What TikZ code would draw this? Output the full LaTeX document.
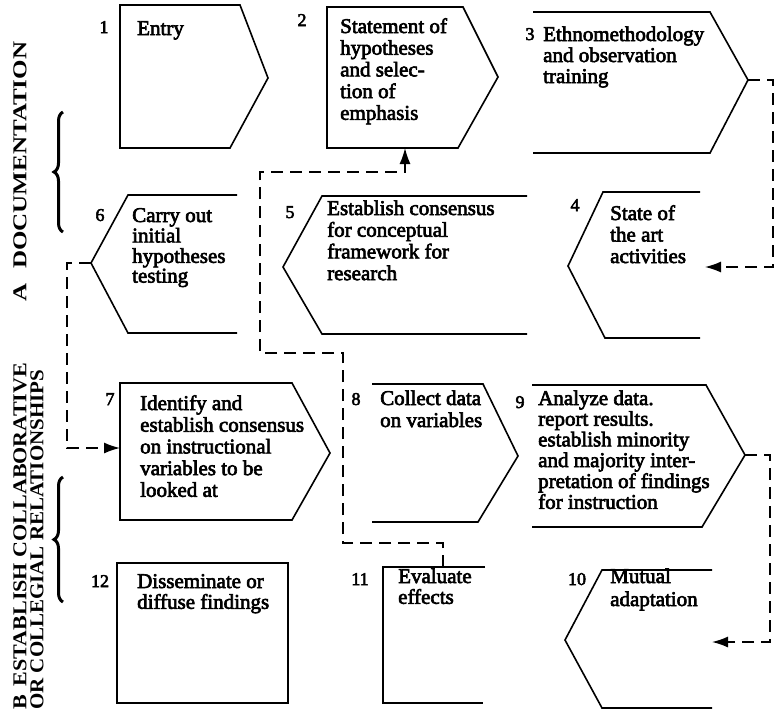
\documentclass[tikz,border=0pt]{standalone}
\usepackage{fontspec}
\setmainfont{Liberation Serif}
\newfontfamily\boxfont{Liberation Serif}[FakeBold=3]
\usetikzlibrary{arrows.meta,decorations.pathreplacing}
\newcommand\mylines[2][21.7]{{\boxfont\fontsize{21}{#1}\selectfont\begin{tabular}[t]{@{}l@{}}#2\end{tabular}}}
\newcommand\vlabel[3]{\resizebox{#1}{#2}{\bfseries #3}}
\begin{document}
\begin{tikzpicture}[x=1pt,y=-1pt,
  box/.style={line width=1.6pt, line join=miter},
  conn/.style={line width=1.4pt, dash pattern=on 12pt off 7pt},
  arr/.style={-{Latex[length=16pt,width=11pt]}},
  num/.style={anchor=base, inner sep=0pt, font=\boxfont\fontsize{18}{20}\selectfont},
  txt/.style={anchor=base west, inner sep=0pt},
  lab/.style={rotate=90, anchor=west, inner sep=0pt},
  bracestyle/.style={line width=3pt, decorate, decoration={brace, amplitude=9pt}}]
\useasboundingbox (0,0) rectangle (775,713);

% side labels and braces
\node[lab] (labA) at (20,302) {\vlabel{260pt}{13pt}{A\hspace{0.6em}DOCUMENTATION}};
\node[lab] (labB1) at (20,710) {\vlabel{347pt}{13pt}{B\hspace{0.4em}ESTABLISH COLLABORATIVE}};
\node[lab] (labB2) at (37,710) {\vlabel{340pt}{13pt}{OR COLLEGIAL RELATIONSHIPS}};
\draw[bracestyle] (63,232) -- (63,112);
\draw[bracestyle] (63,602) -- (63,477);

% boxes
\draw[box] (120,5) -- (240,5) -- (268,78) coordinate (t1) -- (230,148) -- (120,148) -- cycle;
\draw[box] (327,7) -- (463,7) -- (498,77) coordinate (t2) -- (458,148) -- (327,148) -- cycle;
\coordinate (b2) at (405,148);
\draw[box] (533,12) -- (710,12) -- (748,80) coordinate (t3) -- (710,153) -- (533,153);
\draw[box] (237,195) -- (128,195) -- (91,263) coordinate (t6) -- (128,333) -- (237,333);
\draw[box] (527,196) -- (322,196) -- (283,267) coordinate (t5) -- (322,334) -- (527,334);
\draw[box] (700,192) -- (603,192) -- (568,266) coordinate (t4) -- (605,338) -- (700,338);
\coordinate (in4) at (705,267);
\draw[box] (120,383) -- (292,383) -- (330,453) coordinate (t7) -- (292,520) -- (120,520) -- cycle;
\coordinate (in7) at (120,448);
\draw[box] (372,384) -- (483,384) -- (518,456) coordinate (t8) -- (478,522) -- (372,522);
\draw[box] (532,385) -- (706,385) -- (745,455) coordinate (t9) -- (702,527) -- (532,527);
\draw[box] (117,563) rectangle (288,703);
\draw[box] (485,567) -- (383,567) -- (383,703) -- (483,703);
\coordinate (top11) at (443,567);
\draw[box] (712,570) -- (602,570) -- (565,640) coordinate (t10) -- (602,708) -- (712,708);
\coordinate (in10) at (712,642);

% numbers
\node[num] (n1) at (104,33) {1};
\node[num] (n2) at (302,26) {2};
\node[num] (n3) at (530,40) {3};
\node[num] (n6) at (100,221) {6};
\node[num] (n5) at (290,218) {5};
\node[num] (n4) at (575,211) {4};
\node[num] (n7) at (110,405) {7};
\node[num] (n8) at (356,405) {8};
\node[num] (n9) at (520,408) {9};
\node[num] (n12) at (100,587) {12};
\node[num] (n11) at (360,585) {11};
\node[num] (n10) at (577,585) {10};

% texts
\node[txt] (x1) at (137,35) {\mylines{Entry}};
\node[txt] (x2) at (340,33) {\mylines{Statement of\\hypotheses\\and selec-\\tion of\\emphasis}};
\node[txt] (x3) at (543,41) {\mylines[21]{Ethnomethodology\\and observation\\training}};
\node[txt] (x6) at (132,222) {\mylines[19.5]{Carry out\\initial\\hypotheses\\testing}};
\node[txt] (x5) at (327,215) {\mylines{Establish consensus\\for conceptual\\framework for\\research}};
\node[txt] (x4) at (610,220) {\mylines[21.5]{State of\\the art\\activities}};
\node[txt] (x7) at (140,410) {\mylines{Identify and\\establish consensus\\on instructional\\variables to be\\looked at}};
\node[txt] (x8) at (380,405) {\mylines[22]{Collect data\\on variables}};
\node[txt] (x9) at (538,405) {\mylines[20.4]{Analyze data.\\report results.\\establish minority\\and majority inter-\\pretation of findings\\for instruction}};
\node[txt] (x12) at (137,588) {\mylines[20]{Disseminate or\\diffuse findings}};
\node[txt] (x11) at (398,583) {\mylines[20]{Evaluate\\effects}};
\node[txt] (x10) at (610,583) {\mylines[23]{Mutual\\adaptation}};

% connectors
\draw[conn,arr] (t3) -- ++(25,0) |- (in4);
\draw[conn,arr] (t6) -- ++(-24,0) |- (in7);
\draw[conn,arr] (t9) -- ++(25,0) |- (in10);
\draw[conn,arr] (top11) -- (443,543) -- (343,543) -- (343,353) -- (260,353) -- (260,172) -- (405,172) -- (b2);
\end{tikzpicture}
\end{document}
